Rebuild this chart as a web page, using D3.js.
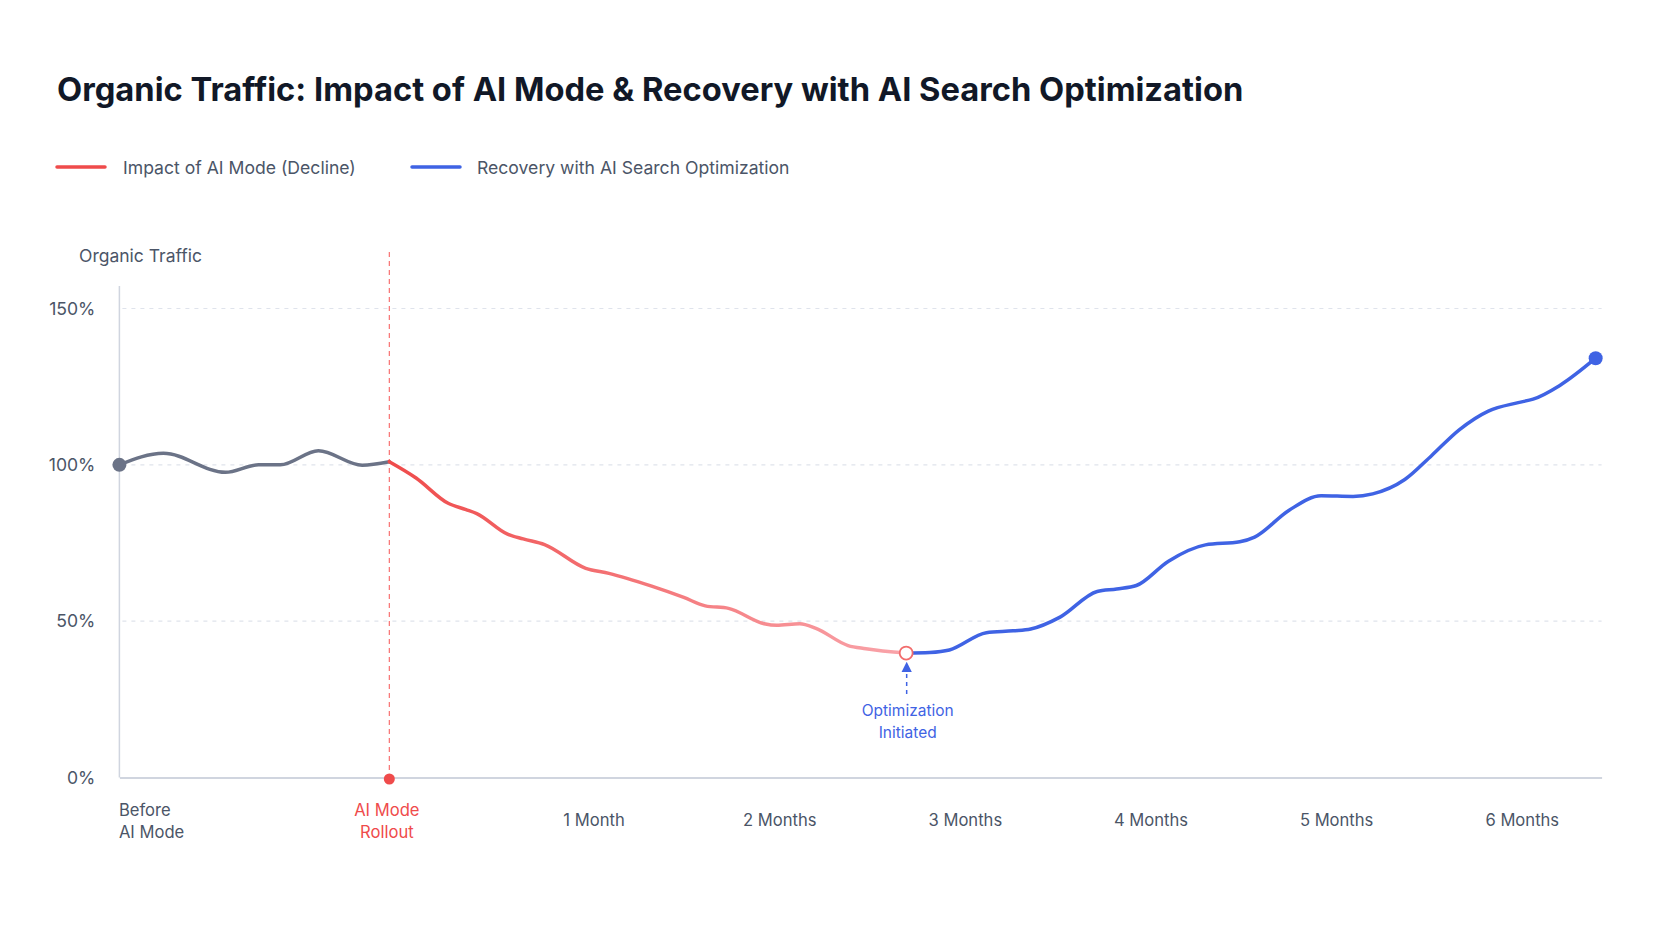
<!DOCTYPE html>
<html>
<head>
<meta charset="utf-8">
<script src="https://cdn.jsdelivr.net/npm/d3@7"></script>
<style>
  html, body { margin: 0; padding: 0; background: #ffffff; }
  svg { display: block; font-family: Inter, "Noto Sans", sans-serif; }
</style>
</head>
<body>
<svg id="chart" width="1672" height="941"></svg>
<script>
// ---- data (x in months since AI Mode rollout, y in % of baseline organic traffic) ----
const baselineMonths = [-1.454, -1.217, -0.883, -0.705, -0.587, -0.382, -0.146, 0];
const baselineValues = [100, 103.7, 97.6, 100, 100, 104.5, 99.9, 101];

const declineMonths = [0, 0.144, 0.317, 0.413, 0.471, 0.634, 0.721, 0.836, 1.058, 1.183, 1.413, 1.586, 1.702, 1.827, 2.019, 2.086, 2.211, 2.298, 2.471, 2.567, 2.784];
const declineValues = [101, 95.8, 87.7, 85.7, 84.4, 77.9, 76.3, 74.5, 66.9, 65.3, 61.2, 57.6, 54.9, 54.1, 49.2, 48.7, 49.2, 47.7, 42.2, 41.2, 39.8];

const recoveryMonths = [2.784, 2.911, 3.017, 3.216, 3.361, 3.455, 3.613, 3.813, 3.918, 4.024, 4.197, 4.396, 4.581, 4.661, 4.847, 5.019, 5.191, 5.297, 5.470, 5.615, 5.763, 5.920, 6.081, 6.161, 6.305, 6.498];
const recoveryValues = [39.8, 40, 40.8, 46.3, 46.9, 47.5, 51.3, 59.5, 60.3, 61.4, 69.2, 74.4, 75.4, 76.9, 85.5, 90.1, 89.9, 90.7, 95.3, 103, 111.2, 117.2, 119.9, 121.0, 125.4, 134.1];

const yTicks = [0, 50, 100, 150];
const xTickLabels = [["Before", "AI Mode"], ["AI Mode", "Rollout"], ["1 Month"], ["2 Months"], ["3 Months"], ["4 Months"], ["5 Months"], ["6 Months"]];
const xTickMonths = [-1.454, 0, 1.1, 2.1, 3.1, 4.1, 5.1, 6.1];

const rolloutMonth = 0;
const optimizationMonth = 2.784;
const optimizationValue = 39.8;

const legendLabels = ["Impact of AI Mode (Decline)", "Recovery with AI Search Optimization"];
const chartTitle = "Organic Traffic: Impact of AI Mode & Recovery with AI Search Optimization";
const yAxisTitle = "Organic Traffic";
const annotationLines = ["Optimization", "Initiated"];

// ---- styles ----
const C = {
  title: "#111827",
  text: "#4b5567",
  gray: "#6b7387",
  red: "#ef4b4b",
  redLight: "#f9a4aa",
  blue: "#3f63e4",
  grid: "#dfe3ec",
  axis: "#d0d5df"
};

const svg = d3.select("#chart");
const plotLeft = 119.4, plotRight = 1601.6, plotTop = 286, plotBottom = 777.5;

const x = d3.scaleLinear().domain([-1.454, 6.53]).range([plotLeft, plotRight]);
const y = d3.scaleLinear().domain([0, 150]).range([plotBottom, 308.5]);

const defs = svg.append("defs");
const grad = defs.append("linearGradient")
  .attr("id", "redGrad").attr("gradientUnits", "userSpaceOnUse")
  .attr("x1", x(rolloutMonth)).attr("x2", x(optimizationMonth))
  .attr("y1", 0).attr("y2", 0);
grad.append("stop").attr("offset", "0%").attr("stop-color", C.red);
grad.append("stop").attr("offset", "100%").attr("stop-color", C.redLight);

const arrow = defs.append("marker")
  .attr("id", "arrowUp").attr("viewBox", "0 0 10 10")
  .attr("refX", 5).attr("refY", 5).attr("markerWidth", 7).attr("markerHeight", 7)
  .attr("orient", "auto-start-reverse");
arrow.append("path").attr("d", "M0,0 L10,5 L0,10 Z").attr("fill", C.blue);

// title
svg.append("text").attr("x", 57).attr("y", 101)
  .attr("font-size", 32.7).attr("font-weight", 700).attr("fill", C.title)
  .text(chartTitle);

// legend
const legend = svg.append("g");
[[C.red, 57, 123, legendLabels[0]], [C.blue, 412, 477, legendLabels[1]]].forEach(([col, lx, tx, lab]) => {
  legend.append("line").attr("x1", lx).attr("x2", lx + 48).attr("y1", 167).attr("y2", 167)
    .attr("stroke", col).attr("stroke-width", 3.5).attr("stroke-linecap", "round");
  legend.append("text").attr("x", tx).attr("y", 167.5).attr("dy", "0.35em")
    .attr("font-size", 17.6).attr("fill", C.text).text(lab);
});

// y axis title
svg.append("text").attr("x", 79).attr("y", 255.5).attr("dy", "0.35em")
  .attr("font-size", 17.5).attr("fill", C.text).text(yAxisTitle);

// gridlines
svg.append("g").selectAll("line").data(yTicks.filter(d => d > 0)).join("line")
  .attr("x1", plotLeft + 3).attr("x2", plotRight).attr("y1", d => y(d)).attr("y2", d => y(d))
  .attr("stroke", C.grid).attr("stroke-width", 1.2).attr("stroke-dasharray", "4,5");

// y axis
const yAxis = d3.axisLeft(y).tickValues(yTicks).tickFormat(d => d + "%").tickSize(0).tickPadding(24);
const gy = svg.append("g").attr("transform", `translate(${plotLeft},0)`).call(yAxis);
gy.select(".domain").remove();
gy.selectAll("text").attr("font-size", 17.6).attr("fill", C.text).attr("font-family", "Inter, 'Noto Sans', sans-serif");
svg.append("line").attr("x1", plotLeft).attr("x2", plotLeft).attr("y1", plotTop).attr("y2", plotBottom)
  .attr("stroke", C.axis).attr("stroke-width", 1.5);

// x axis
const xAxis = d3.axisBottom(x).tickValues(xTickMonths).tickSize(0).tickFormat("");
const gx = svg.append("g").attr("transform", `translate(0,${plotBottom})`).call(xAxis);
gx.select(".domain").attr("stroke", C.axis).attr("stroke-width", 2);
gx.selectAll(".tick").each(function(d, i) {
  const lines = xTickLabels[i];
  const xo = i === 0 ? -1 : (i === 1 ? -3 : 0);
  const t = d3.select(this).append("text")
    .attr("font-size", 16.6)
    .attr("font-family", "Inter, 'Noto Sans', sans-serif")
    .attr("fill", i === 1 ? C.red : C.text)
    .attr("text-anchor", i === 0 ? "start" : "middle");
  if (lines.length === 1) {
    t.append("tspan").attr("x", xo).attr("y", 42.5).attr("dy", "0.35em").text(lines[0]);
  } else {
    lines.forEach((ln, k) => {
      t.append("tspan").attr("x", xo).attr("y", 32.5 + k * 22).attr("dy", "0.35em").text(ln);
    });
  }
});

// rollout marker
svg.append("line").attr("x1", x(rolloutMonth)).attr("x2", x(rolloutMonth))
  .attr("y1", 252).attr("y2", plotBottom)
  .attr("stroke", "#f87171").attr("stroke-width", 1.2).attr("stroke-dasharray", "5,4");
svg.append("circle").attr("cx", x(rolloutMonth)).attr("cy", y(0) + 1.5).attr("r", 5.5).attr("fill", C.red);

// lines
const line = d3.line().x(d => x(d[0])).y(d => y(d[1])).curve(d3.curveMonotoneX);
const zip = (a, b) => a.map((v, i) => [v, b[i]]);

svg.append("path").datum(zip(baselineMonths, baselineValues)).attr("d", line)
  .attr("fill", "none").attr("stroke", C.gray).attr("stroke-width", 3.5).attr("stroke-linecap", "round");
svg.append("path").datum(zip(declineMonths, declineValues)).attr("d", line)
  .attr("fill", "none").attr("stroke", "url(#redGrad)").attr("stroke-width", 3.5).attr("stroke-linecap", "round");
svg.append("path").datum(zip(recoveryMonths, recoveryValues)).attr("d", line)
  .attr("fill", "none").attr("stroke", C.blue).attr("stroke-width", 3.5).attr("stroke-linecap", "round");

// end points
svg.append("circle").attr("cx", x(baselineMonths[0])).attr("cy", y(baselineValues[0])).attr("r", 7).attr("fill", C.gray);
svg.append("circle").attr("cx", x(recoveryMonths[recoveryMonths.length - 1])).attr("cy", y(recoveryValues[recoveryValues.length - 1]))
  .attr("r", 7).attr("fill", C.blue);

// optimization marker
svg.append("circle").attr("cx", x(optimizationMonth)).attr("cy", y(optimizationValue)).attr("r", 6.5)
  .attr("fill", "#ffffff").attr("stroke", "#f26d6d").attr("stroke-width", 1.8);
const ax = x(optimizationMonth) + 0.5;
svg.append("line").attr("x1", ax).attr("x2", ax).attr("y1", 694).attr("y2", 667)
  .attr("stroke", C.blue).attr("stroke-width", 1.5).attr("stroke-dasharray", "4,4")
  .attr("marker-end", "url(#arrowUp)");
const at = svg.append("text").attr("text-anchor", "middle").attr("font-size", 15.5).attr("fill", C.blue);
annotationLines.forEach((ln, k) => {
  at.append("tspan").attr("x", ax + 1).attr("y", 710.5 + k * 22).attr("dy", "0.35em").text(ln);
});
</script>
</body>
</html>
